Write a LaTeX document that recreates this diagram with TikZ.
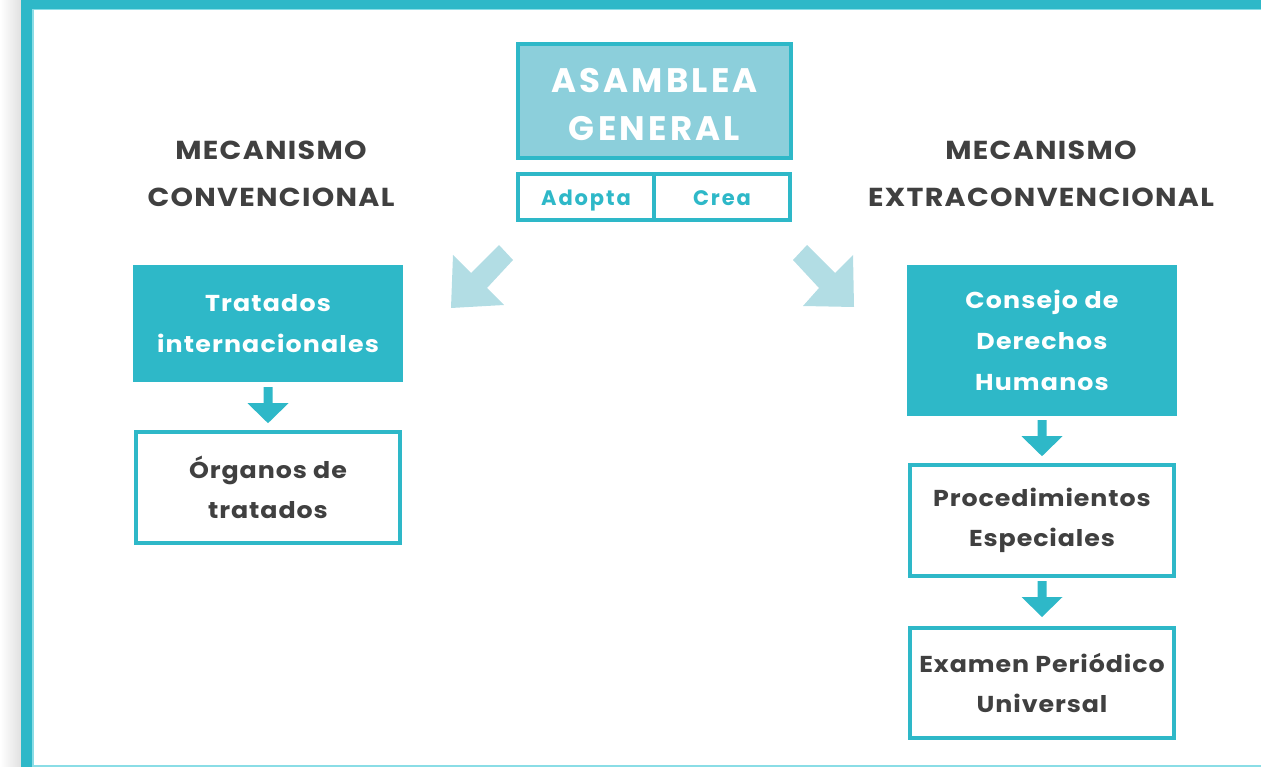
\documentclass[tikz,border=0pt]{standalone}
\usepackage{fontspec}
\setmainfont{Poppins}
\usetikzlibrary{calc}
\definecolor{tealc}{HTML}{2EB8C8}
\definecolor{lightfill}{HTML}{8CCFDB}
\definecolor{arrowc}{HTML}{B2DDE4}
\definecolor{txt}{HTML}{404040}
\definecolor{edgec}{HTML}{8ADDE6}
\tikzset{
  filledbox/.style={fill=tealc, draw=none, text=white, align=center, inner sep=0pt,
    font=\fontsize{23}{41}\selectfont\bfseries\addfontfeatures{FakeStretch=1.1,LetterSpace=5}},
  linebox/.style={draw=tealc, line width=4pt, fill=white, text=txt, align=center, inner sep=0pt,
    font=\fontsize{23}{40}\selectfont\bfseries\addfontfeatures{FakeStretch=1.1,LetterSpace=4}},
  heading/.style={text=txt, align=center, inner sep=0pt,
    font=\fontsize{26}{47}\selectfont\bfseries\addfontfeatures{FakeStretch=1.1,LetterSpace=5}},
  smallbox/.style={draw=tealc, line width=4pt, fill=white, text=tealc, inner sep=0pt,
    minimum width=136pt, minimum height=46pt, text height=19pt, text depth=1pt,
    font=\fontsize{21}{22}\selectfont\bfseries\addfontfeatures{LetterSpace=9}},
  bigarrow/.style={fill=arrowc, draw=none},
  downarrow/.pic={\fill[tealc] (-4.5,0) -- (4.5,0) -- (4.5,16) -- (20.5,16) -- (0,36) -- (-20.5,16) -- (-4.5,16) -- cycle;}
}
\begin{document}
\begin{tikzpicture}[x=1pt,y=-1pt]
\useasboundingbox (0,0) rectangle (1261,767);
% frame
\shade[left color=white, right color=black!12] (0,0) rectangle (21,767);
\fill[tealc] (21,0) rectangle (32,767);
\fill[tealc] (21,0) rectangle (1261,9);
\fill[edgec] (32,9) rectangle (33.5,767);
\fill[edgec] (32,9) rectangle (1261,10.5);
\fill[edgec] (32,764.5) rectangle (1261,767);

% Asamblea
\node[draw=tealc, line width=4pt, fill=lightfill, text=white, align=center, inner sep=0pt,
  minimum width=273pt, minimum height=114pt,
  font=\fontsize{34}{48}\selectfont\bfseries\addfontfeatures{LetterSpace=9.5}] (ag) at (654.5,101) {\rule{0pt}{31pt}ASAMBLEA\\GENERAL};
\node[smallbox] (adopta) at (586,197) {Adopta};
\node[smallbox] (crea) at (722,197) {Crea};

% headings
\node[heading] (hconv) at (271,174) {MECANISMO\\CONVENCIONAL};
\node[heading] (hextra) at (1041,174) {MECANISMO\\EXTRACONVENCIONAL};

% big arrows
\fill[bigarrow] (499,245) -- (513,260) -- (487,288) -- (504,305) -- (451,308) -- (453,255) -- (471,273) -- cycle;
\fill[bigarrow] (807,245) -- (793,260) -- (819,288) -- (803,306) -- (854,307) -- (853,255) -- (835,273) -- cycle;

% left column
\node[filledbox, minimum width=270pt, minimum height=117pt] (trat) at (268,323.5) {Tratados\\internacionales};
\node[linebox, minimum width=264pt, minimum height=111pt] (org) at (268,487.5) {Órganos de\\tratados};
\pic at ($(trat.south)+(0,5)$) {downarrow};

% right column
\node[filledbox, minimum width=270pt, minimum height=151pt] (cdh) at (1042,340.5) {Consejo de\\Derechos\\Humanos};
\node[linebox, minimum width=264pt, minimum height=111pt] (proc) at (1042,520.5) {Procedimientos\\Especiales};
\node[linebox, minimum width=264pt, minimum height=110pt] (epu) at (1042,683) {Examen Periódico\\Universal};
\pic at ($(cdh.south)+(0,4)$) {downarrow};
\pic at ($(proc.south)+(0,3)$) {downarrow};
\end{tikzpicture}
\end{document}
